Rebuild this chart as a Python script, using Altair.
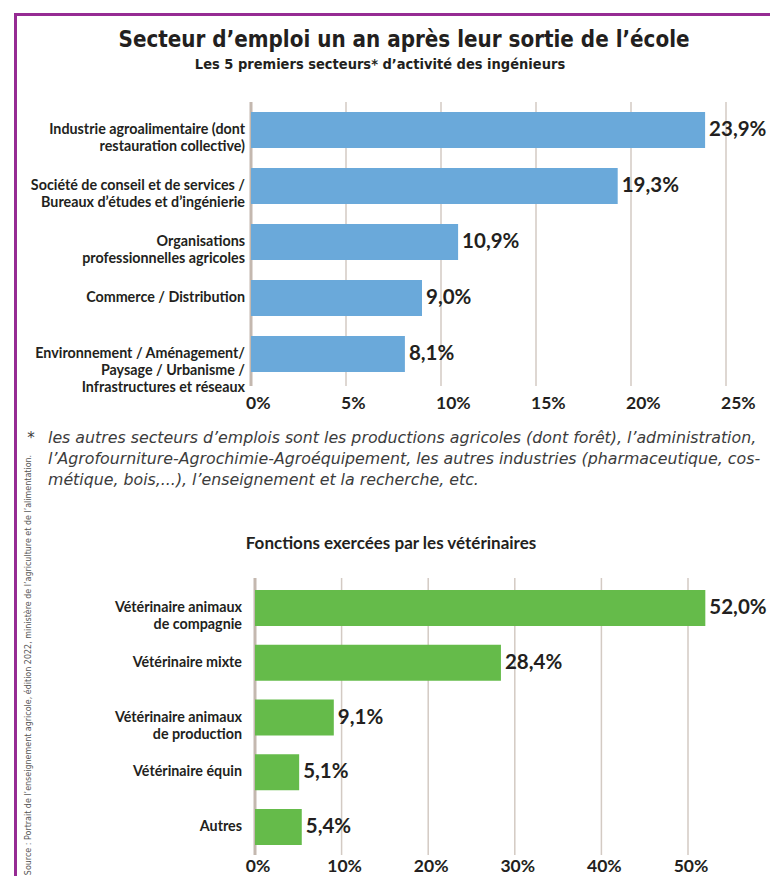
import altair as alt
import pandas as pd

# ---------------- data ----------------
top_categories = [
    "Industrie agroalimentaire (dont\nrestauration collective)",
    "Société de conseil et de services /\nBureaux d’études et d’ingénierie",
    "Organisations\nprofessionnelles agricoles",
    "Commerce / Distribution",
    "Environnement / Aménagement/\nPaysage / Urbanisme /\nInfrastructures et réseaux",
]
top_values = [23.9, 19.3, 10.9, 9.0, 8.1]
top_ticks = [0, 5, 10, 15, 20, 25]

vet_categories = [
    "Vétérinaire animaux\nde compagnie",
    "Vétérinaire mixte",
    "Vétérinaire animaux\nde production",
    "Vétérinaire équin",
    "Autres",
]
vet_values = [52.0, 28.4, 9.1, 5.1, 5.4]
vet_ticks = [0, 10, 20, 30, 40, 50]

title = "Secteur d’emploi un an après leur sortie de l’école"
subtitle = "Les 5 premiers secteurs* d’activité des ingénieurs"
footnote = [
    "les autres secteurs d’emplois sont les productions agricoles (dont forêt), l’administration,",
    "l’Agrofourniture-Agrochimie-Agroéquipement, les autres industries (pharmaceutique, cos-",
    "métique, bois,...), l’enseignement et la recherche, etc.",
]
vet_title = "Fonctions exercées par les vétérinaires"
source = ("Source : Portrait de l’enseignement agricole, édition 2022, "
          "ministère de l’agriculture et de l’alimentation.")

# ---------------- styling ----------------
FONT = "Lato"
NARROW = "'DejaVu Sans Condensed', 'Liberation Sans Narrow', 'Roboto Condensed', Roboto, sans-serif"
ITAL = "'DejaVu Sans', sans-serif"
DARK = "#231f20"
GRID = "#d3cac3"
AXIS = "#c4b8af"
BLUE = "#6aa9da"
GREEN = "#65bb4a"
PURPLE = "#962b93"


def fmt(v):
    return f"{v:.1f}".replace(".", ",") + "%"


def panel(cats, vals, ticks, xrange, yrange, pad_in, color, lab_x,
          grid_y, tick_y, tick_align, tick_dx):
    df = pd.DataFrame({"cat": cats, "v": vals, "lab": [fmt(v) for v in vals]})
    tdf = pd.DataFrame({"t": ticks, "tl": [f"{t}%" for t in ticks]})
    xs = alt.Scale(domain=[ticks[0], ticks[-1]], range=xrange, nice=False, zero=False)
    ys = alt.Scale(range=yrange, paddingInner=pad_in, paddingOuter=pad_in / 2)

    grid = alt.Chart(tdf).mark_rule(color=GRID, strokeWidth=1.5).encode(
        x=alt.X("t:Q", scale=xs, axis=None),
        y=alt.value(grid_y[0]), y2=alt.value(grid_y[1]),
    )
    zero = alt.Chart(tdf.head(1)).mark_rule(color=AXIS, strokeWidth=3).encode(
        x=alt.X("t:Q", scale=xs, axis=None),
        y=alt.value(grid_y[0]), y2=alt.value(grid_y[1]),
    )
    ticklab = alt.Chart(tdf).mark_text(
        font=FONT, fontWeight="bold", fontSize=17.5, color=DARK,
        align=tick_align, baseline="middle", dx=tick_dx,
    ).encode(
        x=alt.X("t:Q", scale=xs, axis=None),
        y=alt.value(tick_y),
        text="tl:N",
    )
    bars = alt.Chart(df).mark_bar(color=color).encode(
        x=alt.X("v:Q", scale=xs, axis=None),
        y=alt.Y("cat:N", sort=cats, scale=ys, axis=None),
    )
    vlab = alt.Chart(df).mark_text(
        font=FONT, fontWeight="bold", fontSize=20.5, color=DARK,
        align="left", baseline="middle", dx=4,
    ).encode(
        x=alt.X("v:Q", scale=xs, axis=None),
        y=alt.Y("cat:N", sort=cats, scale=ys, axis=None),
        text="lab:N",
    )
    clab = alt.Chart(df).mark_text(
        font=FONT, fontWeight="bold", fontSize=14.3, color=DARK,
        align="right", baseline="middle", lineBreak="\n", lineHeight=17,
    ).encode(
        x=alt.value(lab_x),
        y=alt.Y("cat:N", sort=cats, scale=ys, axis=None),
        text="cat:N",
    )
    return alt.layer(grid, zero, bars, vlab, clab, ticklab)


top = panel(top_categories, top_values, top_ticks,
            xrange=[243, 718], yrange=[94, 374], pad_in=0.36, color=BLUE,
            lab_x=237, grid_y=(94, 378), tick_y=396, tick_align="left", tick_dx=-5)

bottom = panel(vet_categories, vet_values, vet_ticks,
               xrange=[247, 680], yrange=[572.6, 846.4], pad_in=0.342, color=GREEN,
               lab_x=234, grid_y=(570, 847), tick_y=859, tick_align="center", tick_dx=3)

one = pd.DataFrame({"a": [0]})


def txt(s, x, y, size, font=FONT, weight="bold", style="normal", align="center",
        color=DARK, angle=0):
    kw = dict(font=font, fontSize=size, fontWeight=weight, fontStyle=style,
              align=align, baseline="middle", color=color)
    if angle:
        kw["angle"] = angle
    return alt.Chart(one).mark_text(**kw).encode(
        x=alt.value(x), y=alt.value(y), text=alt.value(s))


FN = "#3c3c3c"
decor = [
    alt.Chart(one).mark_rule(color=PURPLE, strokeWidth=3).encode(
        x=alt.value(7.5), x2=alt.value(7.5), y=alt.value(5), y2=alt.value(868)),
    alt.Chart(one).mark_rule(color=PURPLE, strokeWidth=3).encode(
        x=alt.value(6), x2=alt.value(762), y=alt.value(6.5), y2=alt.value(6.5)),
    txt(title, 396, 32, 22.2, font=NARROW),
    txt(subtitle, 372, 57, 14.5, font=NARROW),
    txt("*", 23, 430, 15, font=ITAL, weight="normal", color=FN),
    txt(footnote[0], 40, 430, 15.8, font=ITAL, weight="normal", style="italic", align="left", color=FN),
    txt(footnote[1], 40, 451, 15.8, font=ITAL, weight="normal", style="italic", align="left", color=FN),
    txt(footnote[2], 40, 472, 15.8, font=ITAL, weight="normal", style="italic", align="left", color=FN),
    txt(vet_title, 383, 536, 17),
    txt(source, 20, 657, 8.9, font=NARROW, weight="normal", color="#555555", angle=270),
]

chart = alt.layer(top, bottom, *decor).resolve_scale(
    x="independent", y="independent"
).properties(
    width=762, height=868, autosize="none", padding=0,
).configure_view(stroke=None)

chart.save("out.html", embed_options={"renderer": "svg", "actions": False})
